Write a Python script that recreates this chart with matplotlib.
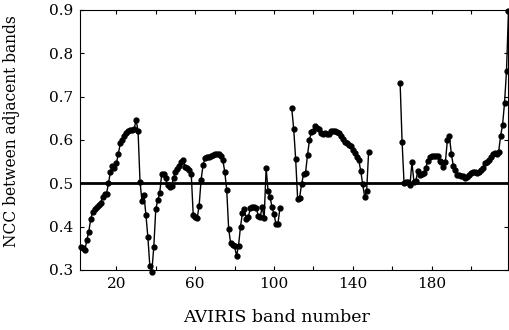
import numpy as np
import matplotlib.pyplot as plt

# NCC between adjacent AVIRIS bands (three segments, water bands removed)
bands_a = np.arange(2, 104)
ncc_a = [0.352, 0.350, 0.345, 0.369, 0.388, 0.418, 0.434, 0.440, 0.446, 0.450,
         0.455, 0.468, 0.475, 0.476, 0.500, 0.527, 0.540, 0.535, 0.546, 0.568,
         0.592, 0.600, 0.608, 0.615, 0.620, 0.623, 0.622, 0.625, 0.646, 0.621,
         0.504, 0.458, 0.473, 0.427, 0.375, 0.308, 0.296, 0.354, 0.440, 0.461,
         0.477, 0.521, 0.521, 0.511, 0.496, 0.491, 0.494, 0.511, 0.527, 0.532,
         0.540, 0.548, 0.554, 0.538, 0.535, 0.531, 0.521, 0.427, 0.423, 0.419,
         0.448, 0.508, 0.542, 0.558, 0.560, 0.560, 0.563, 0.565, 0.567, 0.567,
         0.567, 0.563, 0.554, 0.527, 0.485, 0.394, 0.362, 0.357, 0.355, 0.332,
         0.356, 0.400, 0.432, 0.440, 0.417, 0.423, 0.442, 0.446, 0.446, 0.443,
         0.425, 0.423, 0.445, 0.419, 0.535, 0.481, 0.468, 0.445, 0.429, 0.406,
         0.407, 0.442]
bands_b = np.arange(109, 149)
ncc_b = [0.673, 0.625, 0.555, 0.463, 0.467, 0.498, 0.521, 0.524, 0.565, 0.600,
         0.619, 0.620, 0.632, 0.628, 0.626, 0.615, 0.613, 0.617, 0.613, 0.613,
         0.621, 0.621, 0.620, 0.619, 0.616, 0.609, 0.601, 0.596, 0.592, 0.589,
         0.586, 0.577, 0.569, 0.561, 0.554, 0.529, 0.498, 0.469, 0.481, 0.571]
bands_c = np.arange(164, 220)
ncc_c = [0.732, 0.596, 0.500, 0.504, 0.504, 0.496, 0.548, 0.504, 0.506, 0.529,
         0.519, 0.522, 0.524, 0.535, 0.552, 0.561, 0.563, 0.562, 0.563, 0.562,
         0.552, 0.548, 0.538, 0.550, 0.600, 0.609, 0.568, 0.540, 0.531, 0.519,
         0.520, 0.517, 0.516, 0.512, 0.514, 0.518, 0.523, 0.526, 0.525, 0.524,
         0.526, 0.530, 0.535, 0.546, 0.549, 0.554, 0.561, 0.568, 0.569, 0.568,
         0.573, 0.609, 0.635, 0.686, 0.760, 0.898]
threshold = 0.5

xticks = [20, 40, 60, 80, 100, 120, 140, 160, 180, 200]
xticklabels = ['20', '', '60', '', '100', '', '140', '', '180', '']
yticks = [0.3, 0.4, 0.5, 0.6, 0.7, 0.8, 0.9]

plt.rcParams['font.family'] = ['DejaVu Serif']

fig = plt.figure(figsize=(5.09, 3.30), dpi=100)
ax = fig.add_axes([0.157, 0.182, 0.842, 0.788])

ax.axhline(threshold, color='k', lw=2)
for b, v in [(bands_a, ncc_a), (bands_b, ncc_b), (bands_c, ncc_c)]:
    ax.plot(b, v, '-o', color='k', lw=1, ms=3.5, clip_on=False)

ax.set_xlim(1.5, 219)
ax.set_ylim(0.3, 0.9)
ax.set_xticks(xticks)
ax.set_xticklabels(xticklabels)
ax.set_yticks(yticks)
ax.set_yticklabels(['0.3', '0.4', '0.5', '0.6', '0.7', '0.8', '0.9'])
ax.tick_params(direction='in', top=True, right=True, length=3, labelsize=11, pad=5)

ax.set_xlabel('AVIRIS band number', fontsize=12.5)
ax.set_ylabel('NCC between adjacent bands', fontsize=11.2)
ax.xaxis.set_label_coords(0.458, -0.15)
ax.yaxis.set_label_coords(-0.14, 0.535)

fig.savefig('out.png', dpi=100)
